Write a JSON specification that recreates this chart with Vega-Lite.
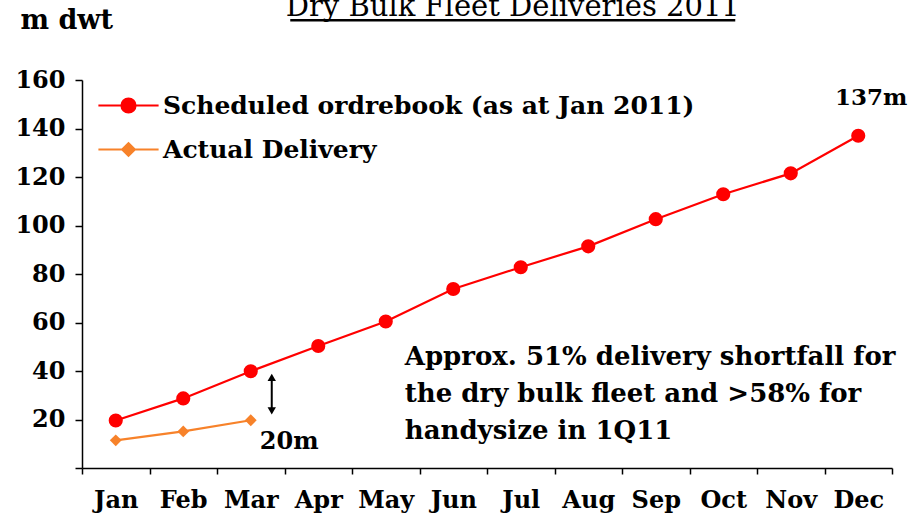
{
  "$schema": "https://vega.github.io/schema/vega-lite/v6.json",
  "width": 810,
  "height": 388,
  "autosize": {"type": "none"},
  "padding": {"left": 82, "top": 80, "right": 31, "bottom": 49},
  "background": "white",
  "config": {
    "view": {"stroke": null},
    "font": "DejaVu Serif",
    "axis": {
      "labelFont": "DejaVu Serif",
      "titleFont": "DejaVu Serif",
      "labelFontWeight": "bold",
      "labelColor": "black",
      "domainColor": "black",
      "tickColor": "black",
      "domainWidth": 1.5,
      "tickWidth": 1.5,
      "grid": false
    },
    "legend": {"labelFont": "DejaVu Serif"},
    "text": {"font": "DejaVu Serif"}
  },
  "datasets": {
    "fleet": [
      {"month": "Jan", "series": "Scheduled ordrebook (as at Jan 2011)", "value": 19.6},
      {"month": "Feb", "series": "Scheduled ordrebook (as at Jan 2011)", "value": 28.7},
      {"month": "Mar", "series": "Scheduled ordrebook (as at Jan 2011)", "value": 39.9},
      {"month": "Apr", "series": "Scheduled ordrebook (as at Jan 2011)", "value": 50.3},
      {"month": "May", "series": "Scheduled ordrebook (as at Jan 2011)", "value": 60.4},
      {"month": "Jun", "series": "Scheduled ordrebook (as at Jan 2011)", "value": 73.8},
      {"month": "Jul", "series": "Scheduled ordrebook (as at Jan 2011)", "value": 82.8},
      {"month": "Aug", "series": "Scheduled ordrebook (as at Jan 2011)", "value": 91.4},
      {"month": "Sep", "series": "Scheduled ordrebook (as at Jan 2011)", "value": 102.6},
      {"month": "Oct", "series": "Scheduled ordrebook (as at Jan 2011)", "value": 112.9},
      {"month": "Nov", "series": "Scheduled ordrebook (as at Jan 2011)", "value": 121.5},
      {"month": "Dec", "series": "Scheduled ordrebook (as at Jan 2011)", "value": 137},
      {"month": "Jan", "series": "Actual Delivery", "value": 11.4},
      {"month": "Feb", "series": "Actual Delivery", "value": 15.1},
      {"month": "Mar", "series": "Actual Delivery", "value": 19.7}
    ],
    "notes": [
      {"month": "Dec", "value": 149.7, "label": "137m"}
    ],
    "heading": [
      {"month": "Jul", "value": 186.4, "label": "Dry Bulk Fleet Deliveries 2011"}
    ],
    "gap": [
      {"month": "Mar", "value": 7.8, "label": "20m", "low": 23.6, "high": 37.4}
    ],
    "note": [
      {"month": "May", "value": 42.5, "label": "Approx. 51% delivery shortfall for\nthe dry bulk fleet and >58% for\nhandysize in 1Q11"}
    ],
    "underline": [
      {"month": "Apr", "month2": "Oct", "value": 184.6}
    ]
  },
  "encoding": {
    "x": {
      "field": "month",
      "type": "nominal",
      "sort": ["Jan","Feb","Mar","Apr","May","Jun","Jul","Aug","Sep","Oct","Nov","Dec"],
      "scale": {"type": "band", "domain": ["Jan","Feb","Mar","Apr","May","Jun","Jul","Aug","Sep","Oct","Nov","Dec"], "paddingInner": 0, "paddingOuter": 0},
      "axis": {"title": null, "labelAngle": 0, "labelFontSize": 24, "labelPadding": 14, "tickSize": 6, "tickBand": "extent"}
    },
    "y": {
      "field": "value",
      "type": "quantitative",
      "scale": {"domain": [0, 160], "nice": false, "zero": true},
      "axis": {
        "title": "m dwt",
        "titleAngle": 0,
        "titleAlign": "left",
        "titleBaseline": "alphabetic",
        "titleX": -62,
        "titleY": -52,
        "titleFontSize": 27,
        "titleFontWeight": "bold",
        "titleColor": "black",
        "values": [0, 20, 40, 60, 80, 100, 120, 140, 160],
        "labelExpr": "datum.value === 0 ? '' : datum.label",
        "labelFontSize": 24,
        "labelPadding": 10,
        "tickSize": 7
      }
    }
  },
  "layer": [
    {
      "data": {"name": "fleet"},
      "mark": {"type": "line", "strokeWidth": 2.2},
      "encoding": {
        "color": {
          "field": "series",
          "type": "nominal",
          "scale": {"domain": ["Scheduled ordrebook (as at Jan 2011)", "Actual Delivery"], "range": ["#ff0000", "#f7822a"]},
          "legend": {
            "title": null,
            "orient": "none",
            "legendX": 31,
            "legendY": 10,
            "padding": 0,
            "symbolSize": 784,
            "symbolStrokeWidth": 2.2,
            "labelFontWeight": "bold",
            "labelFontSize": 25,
            "labelColor": "black",
            "labelLimit": 0,
            "labelOffset": 19,
            "rowPadding": 15,
            "encode": {
              "symbols": {
                "update": {
                  "shape": {"signal": "datum.value === 'Actual Delivery' ? 'M-2.15,0L2.15,0M0,-0.45L0.45,0L0,0.45L-0.45,0Z' : 'M-2.15,0L2.15,0M0.5,0A0.5,0.5,0,1,1,-0.5,0A0.5,0.5,0,1,1,0.5,0Z'"},
                  "fill": {"scale": "color", "field": "value"},
                  "stroke": {"scale": "color", "field": "value"},
                  "strokeWidth": {"value": 2.2}
                }
              }
            }
          }
        }
      }
    },
    {
      "data": {"name": "fleet"},
      "transform": [{"filter": "datum.series !== 'Actual Delivery'"}],
      "mark": {"type": "point", "shape": "circle", "filled": true, "size": 200, "opacity": 1, "color": "#ff0000"},
      "encoding": {}
    },
    {
      "data": {"name": "fleet"},
      "transform": [{"filter": "datum.series === 'Actual Delivery'"}],
      "mark": {"type": "point", "shape": "diamond", "filled": true, "size": 140, "opacity": 1, "color": "#f7822a"},
      "encoding": {}
    },
    {
      "data": {"name": "heading"},
      "mark": {"type": "text", "fontWeight": "normal", "fontSize": 29, "color": "black", "align": "center", "baseline": "alphabetic", "dx": -8},
      "encoding": {"text": {"field": "label"}}
    },
    {
      "data": {"name": "notes"},
      "mark": {"type": "text", "fontWeight": "bold", "fontSize": 23, "color": "black", "align": "center", "baseline": "alphabetic", "dx": 13},
      "encoding": {"text": {"field": "label"}}
    },
    {
      "data": {"name": "gap"},
      "mark": {"type": "text", "fontWeight": "bold", "fontSize": 24, "color": "black", "align": "left", "baseline": "alphabetic", "dx": 9},
      "encoding": {"text": {"field": "label"}}
    },
    {
      "data": {"name": "gap"},
      "mark": {"type": "rule", "color": "black", "strokeWidth": 2, "xOffset": 21},
      "encoding": {"y": {"field": "low", "type": "quantitative"}, "y2": {"field": "high"}}
    },
    {
      "data": {"name": "gap"},
      "mark": {"type": "point", "shape": "triangle-up", "filled": true, "color": "black", "opacity": 1, "size": 70, "xOffset": 21},
      "encoding": {"y": {"field": "high", "type": "quantitative"}}
    },
    {
      "data": {"name": "gap"},
      "mark": {"type": "point", "shape": "triangle-down", "filled": true, "color": "black", "opacity": 1, "size": 70, "xOffset": 21},
      "encoding": {"y": {"field": "low", "type": "quantitative"}}
    },
    {
      "data": {"name": "note"},
      "mark": {"type": "text", "fontWeight": "bold", "fontSize": 26, "color": "black", "align": "left", "baseline": "alphabetic", "dx": 19, "lineBreak": "\n", "lineHeight": 37},
      "encoding": {"text": {"field": "label"}}
    },
    {
      "data": {"name": "underline"},
      "mark": {"type": "rule", "color": "black", "strokeWidth": 2.5, "xOffset": -28, "x2Offset": 12},
      "encoding": {"x2": {"field": "month2"}}
    }
  ]
}
